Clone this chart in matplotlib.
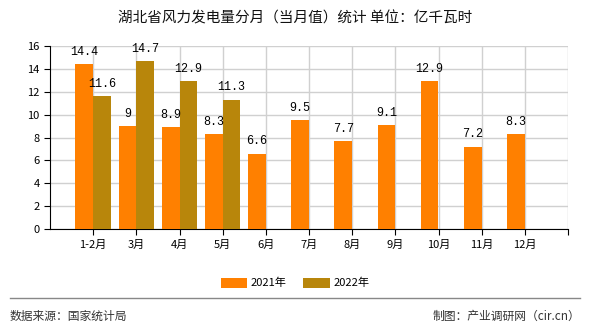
import numpy as np
import matplotlib
matplotlib.use('Agg')
import matplotlib.pyplot as plt

plt.rcParams['font.family'] = ['Noto Sans CJK SC', 'DejaVu Sans']

months = ['1-2月', '3月', '4月', '5月', '6月', '7月', '8月', '9月', '10月', '11月', '12月']
y2021 = [14.4, 9, 8.9, 8.3, 6.6, 9.5, 7.7, 9.1, 12.9, 7.2, 8.3]
y2022 = [11.6, 14.7, 12.9, 11.3]
yticks = [0, 2, 4, 6, 8, 10, 12, 14, 16]

c2021 = '#ff8000'
c2022 = '#b8860b'

fig = plt.figure(figsize=(5.9, 3.3), dpi=100)
ax = fig.add_axes([50/590, 1-229/330, 518/590, 183/330])

x = np.arange(1, len(months)+1)
x2 = np.arange(1, len(y2022)+1)
w = 0.41
ax.bar(x - w/2, y2021, w, color=c2021, label='2021年', zorder=3)
ax.bar(x2 + w/2, y2022, w, color=c2022, label='2022年', zorder=3)

# value labels
for xi, v in zip(x, y2021):
    ax.text(xi - w/2, v + 0.55, f'{v:g}', ha='center', va='bottom', fontsize=8.5,
            family=['Liberation Mono', 'DejaVu Sans'])
for xi, v in zip(x2, y2022):
    ax.text(xi + w/2, v + 0.55, f'{v:g}', ha='center', va='bottom', fontsize=8.5,
            family=['Liberation Mono', 'DejaVu Sans'])

ax.set_xlim(0, 12)
ax.set_ylim(0, 16)
ax.set_yticks(yticks)
ax.set_xticks(list(x) + [12])
ax.set_xticklabels(months + [''])
ax.tick_params(axis='both', labelsize=8, length=4, color='black')
ax.tick_params(axis='x', pad=4)
ax.grid(True, color='#d0d0d0', linewidth=1, zorder=0)
ax.set_axisbelow(True)
for s in ['top', 'right']:
    ax.spines[s].set_visible(False)
ax.spines['left'].set_color('black')
ax.spines['bottom'].set_color('black')

fig.text(0.5, 1-18/330, '湖北省风力发电量分月（当月值）统计 单位：亿千瓦时', ha='center', va='center',
         fontsize=10.5, color='#111111')

fig.legend(loc='center', bbox_to_anchor=(0.5, 1-283/330), ncol=2, frameon=False, fontsize=8,
           handlelength=2.4, handleheight=1.0, columnspacing=1.5, handletextpad=0.3)

fig.add_artist(plt.Line2D([10/590, 580/590], [1-298/330, 1-298/330], color='#888888', linewidth=1))
fig.text(10/590, 1-316/330, '数据来源：国家统计局', ha='left', va='center', fontsize=8.5, color='#333333')
fig.text(580/590, 1-316/330, '制图：产业调研网（cir.cn）', ha='right', va='center', fontsize=8.5, color='#333333')

fig.savefig('out.png', dpi=100)
